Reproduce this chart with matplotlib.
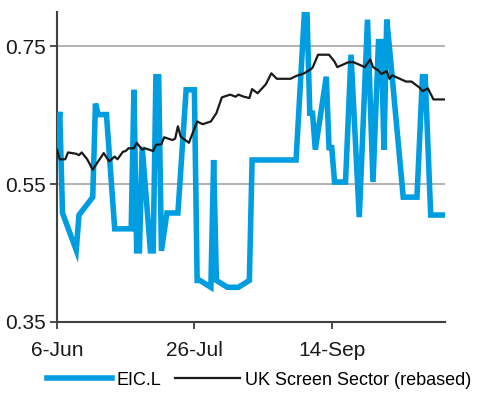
import numpy as np
import pandas as pd
import matplotlib
matplotlib.use("Agg")
import matplotlib.pyplot as plt
import matplotlib.dates as mdates

plt.rcParams['font.family'] = ['Liberation Sans', 'DejaVu Sans']

# start of the window, series are stored as days since this date
start = pd.Timestamp('2016-06-06')

# EIC.L share price (turning points, days since start)
eic_days = [0, 1, 2, 7, 8, 13, 14, 15, 18, 21, 27, 28, 29, 30, 31, 34, 35, 36, 37,
            38, 40, 44, 47, 50, 51, 52, 56, 57, 58, 62, 66, 70, 71, 87, 90, 91, 92,
            93, 94, 98, 99, 100, 101, 105, 107, 110, 113, 115, 117, 118, 119, 120,
            121, 126, 131, 133, 134, 136, 141]
eic_vals = [0.603, 0.655, 0.508, 0.454, 0.505, 0.531, 0.667, 0.651, 0.651, 0.485,
            0.485, 0.687, 0.453, 0.453, 0.604, 0.453, 0.453, 0.706, 0.706, 0.453,
            0.508, 0.508, 0.687, 0.687, 0.410, 0.410, 0.400, 0.585, 0.410, 0.400,
            0.400, 0.410, 0.585, 0.585, 0.796, 0.796, 0.653, 0.653, 0.600, 0.706,
            0.603, 0.603, 0.553, 0.553, 0.738, 0.502, 0.789, 0.553, 0.757, 0.757,
            0.600, 0.789, 0.748, 0.531, 0.531, 0.706, 0.706, 0.505, 0.505]

# UK screen sector, rebased
sector_days = [0, 1, 3, 4, 7, 8, 9, 11, 13, 15, 17, 19, 21, 22, 24, 25, 26, 28, 29,
               31, 32, 35, 36, 38, 39, 42, 43, 44, 45, 48, 51, 53, 56, 58, 60, 63,
               65, 66, 68, 70, 71, 73, 76, 78, 80, 85, 87, 90, 92, 93, 95, 99, 101,
               102, 106, 108, 112, 114, 115, 117, 118, 120, 121, 122, 127, 129, 132,
               133, 135, 137, 141]
sector_vals = [0.600, 0.586, 0.586, 0.596, 0.594, 0.592, 0.596, 0.586, 0.571, 0.583,
               0.595, 0.583, 0.590, 0.586, 0.597, 0.598, 0.602, 0.602, 0.610, 0.600,
               0.602, 0.598, 0.607, 0.608, 0.618, 0.614, 0.616, 0.634, 0.619, 0.610,
               0.641, 0.637, 0.641, 0.653, 0.676, 0.680, 0.677, 0.680, 0.677, 0.675,
               0.688, 0.682, 0.695, 0.711, 0.703, 0.703, 0.707, 0.711, 0.716, 0.719,
               0.738, 0.738, 0.728, 0.720, 0.727, 0.727, 0.720, 0.731, 0.720, 0.715,
               0.710, 0.714, 0.703, 0.708, 0.699, 0.699, 0.690, 0.685, 0.689, 0.673,
               0.673]

yticks = [0.35, 0.55, 0.75]
xtick_days = [0, 50, 100]

eic_dates = start + pd.to_timedelta(eic_days, unit='D')
sector_dates = start + pd.to_timedelta(sector_days, unit='D')
xtick_dates = start + pd.to_timedelta(xtick_days, unit='D')

fig = plt.figure(figsize=(4.79, 3.96), dpi=100)
ax = fig.add_axes([0.119, 0.1876, 0.81, 0.782])

ax.plot(eic_dates, eic_vals, color='#009ee0', lw=4, label='EIC.L',
        solid_joinstyle='miter', zorder=3)
ax.plot(sector_dates, sector_vals, color='#1a1a1a', lw=1.6,
        label='UK Screen Sector (rebased)', zorder=4)

ax.set_ylim(0.35, 0.80)
ax.set_xlim(start, start + pd.Timedelta(days=141.2))
ax.set_yticks(yticks)
ax.set_yticklabels(['%.2f' % v for v in yticks])
ax.set_xticks(xtick_dates)
ax.xaxis.set_major_formatter(mdates.DateFormatter('%-d-%b'))

ax.yaxis.grid(True, color='#a6a6a6', lw=1.2)
ax.set_axisbelow(True)
for s in ['top', 'right']:
    ax.spines[s].set_visible(False)
for s in ['left', 'bottom']:
    ax.spines[s].set_color('#404040')
    ax.spines[s].set_linewidth(1.5)
ax.tick_params(axis='both', length=5, width=1.3, color='#404040',
               labelsize=15, labelcolor='#1a1a1a')
ax.tick_params(axis='x', pad=9)
ax.tick_params(axis='y', pad=3)

fig.legend(loc='center', bbox_to_anchor=(0.541, 0.04), ncol=2, frameon=False,
           fontsize=13, handlelength=3.6, handletextpad=0.28,
           columnspacing=0.78, borderaxespad=0)

fig.savefig('out.png', dpi=100)
